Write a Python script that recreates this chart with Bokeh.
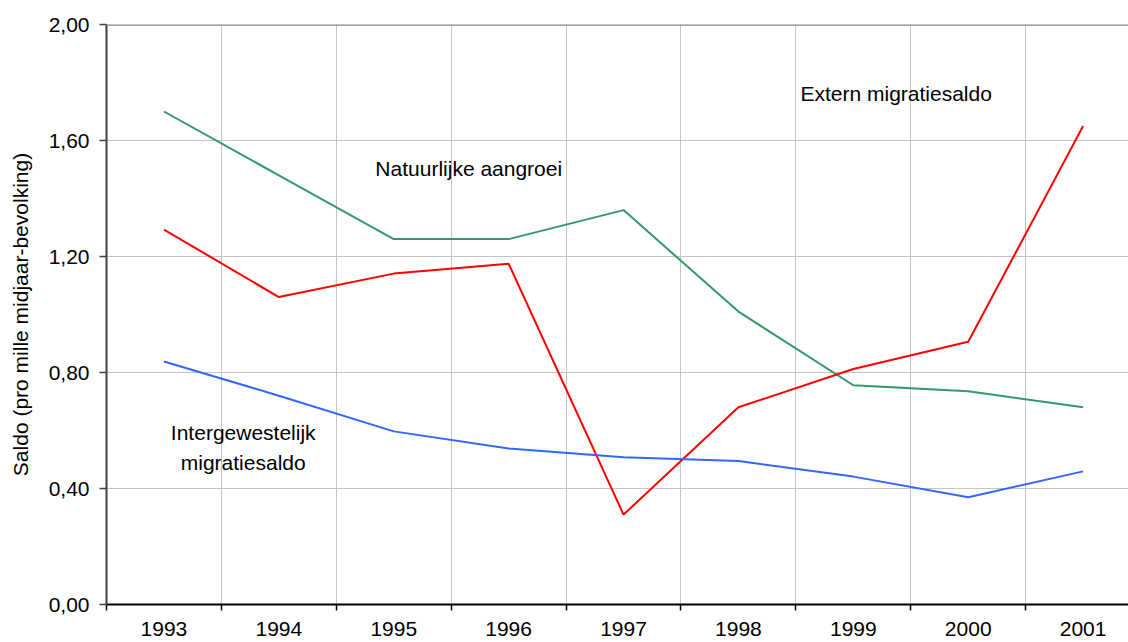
from bokeh.plotting import figure
from bokeh.models import Range1d, FixedTicker, CustomJSTickFormatter, Span, Label
from bokeh.embed import file_html
from bokeh.resources import INLINE

years = [1993, 1994, 1995, 1996, 1997, 1998, 1999, 2000, 2001]
natuurlijke_aangroei = [1.70, 1.48, 1.26, 1.26, 1.36, 1.01, 0.756, 0.735, 0.68]
extern_migratiesaldo = [1.293, 1.06, 1.141, 1.175, 0.31, 0.68, 0.812, 0.906, 1.65]
intergewestelijk_migratiesaldo = [0.838, 0.72, 0.597, 0.538, 0.508, 0.495, 0.441, 0.37, 0.459]
y_ticks = [0.0, 0.4, 0.8, 1.2, 1.6, 2.0]

FONT = "Liberation Sans"

p = figure(width=1128, height=642, output_backend="svg", toolbar_location=None,
           x_range=Range1d(1992.5, 2001.395), y_range=Range1d(0, 2.0),
           min_border_left=106, min_border_top=24, min_border_bottom=38, min_border_right=0)
p.outline_line_color = None
p.background_fill_color = "white"
p.border_fill_color = "white"

# x axis: labels at category centres, tick marks at boundaries
xa = p.xaxis[0]
xa.ticker = FixedTicker(ticks=years, minor_ticks=[y - 0.5 for y in years] + [years[-1] + 0.5])
xa.major_tick_out = 0
xa.major_tick_in = 0
xa.minor_tick_out = 6
xa.minor_tick_in = 0
xa.minor_tick_line_color = "black"
xa.minor_tick_line_width = 1.5
xa.axis_line_color = "black"
xa.axis_line_width = 2
xa.major_label_text_font = FONT
xa.major_label_text_font_size = "21px"
xa.major_label_text_color = "black"
xa.major_label_standoff = 11
xa.formatter = CustomJSTickFormatter(code="return tick.toFixed(0);")

ya = p.yaxis[0]
ya.ticker = FixedTicker(ticks=y_ticks, minor_ticks=[])
ya.formatter = CustomJSTickFormatter(code="return tick.toFixed(2).replace('.', ',');")
ya.major_tick_out = 7
ya.major_tick_in = 0
ya.major_tick_line_color = "#404040"
ya.major_tick_line_width = 1.5
ya.axis_line_color = "#404040"
ya.axis_line_width = 2
ya.major_label_text_font = FONT
ya.major_label_text_font_size = "21px"
ya.major_label_text_color = "black"
ya.major_label_standoff = 10
ya.axis_label = "Saldo (pro mille midjaar-bevolking)"
ya.axis_label_text_font = FONT
ya.axis_label_text_font_size = "21px"
ya.axis_label_text_font_style = "normal"
ya.axis_label_text_color = "black"
ya.axis_label_standoff = 14

p.xgrid.ticker = FixedTicker(ticks=[y + 0.5 for y in years])
p.xgrid.grid_line_color = "#c4c4c4"
p.xgrid.grid_line_width = 1
p.ygrid.grid_line_color = "#c4c4c4"
p.ygrid.grid_line_width = 1

p.add_layout(Span(location=2.0, dimension="width", line_color="#858585", line_width=2.5))

p.line(years, natuurlijke_aangroei, line_color="#339966", line_width=2)
p.line(years, extern_migratiesaldo, line_color="#ff0000", line_width=2)
p.line(years, intergewestelijk_migratiesaldo, line_color="#3366ff", line_width=2)

def lab(x, y, t, align="left"):
    p.add_layout(Label(x=x, y=y, text=t, text_font=FONT, text_font_size="21px",
                       text_color="black", text_align=align, text_baseline="alphabetic"))

lab(1994.84, 1.505, "Natuurlijke aangroei")
lab(1998.54, 1.762, "Extern migratiesaldo")
lab(1993.69, 0.593, "Intergewestelijk", "center")
lab(1993.69, 0.489, "migratiesaldo", "center")

open("out.html", "w").write(file_html(p, INLINE))
